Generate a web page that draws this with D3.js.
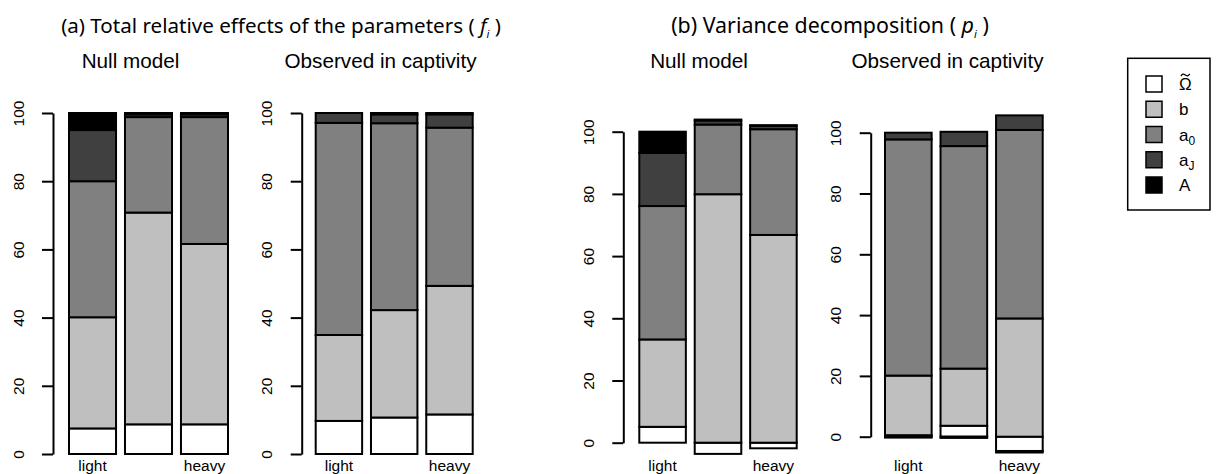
<!DOCTYPE html>
<html>
<head>
<meta charset="utf-8">
<script src="https://cdn.jsdelivr.net/npm/d3@7"></script>
<style>
  body { margin: 0; background: #fff; }
  svg { display: block; }
  .axis-text { font-family: "Liberation Sans", Arial, sans-serif; }
  .title-text { font-family: "Noto Sans", "Open Sans", sans-serif; }
</style>
</head>
<body>
<div id="chart"></div>
<script>
// stacked bars: total relative effects (f_i) and variance decomposition (p_i)

var categories = ["light", "medium", "heavy"];
var xTickLabels = ["light", "", "heavy"];
var yTicks = [0, 20, 40, 60, 80, 100];
var components = ["Omega", "b", "a0", "aJ", "A"];

// values per bar, in component order (Omega, b, a0, aJ, A)
var fNull = [
    [7.5, 32.6, 39.9, 15.0, 5.0],
    [8.7, 62.1, 28.0, 0.8, 0.4],
    [8.7, 52.9, 37.2, 0.8, 0.4]
];
var fObserved = [
    [9.7, 25.2, 62.2, 2.9, 0.0],
    [10.7, 31.5, 54.8, 2.6, 0.4],
    [11.6, 37.7, 46.4, 3.9, 0.4]
];
var pNull = [
    [5.1, 28.1, 42.9, 17.1, 6.8],
    [-3.6, 79.9, 22.4, 1.3, 0.3],
    [-1.8, 66.8, 34.0, 1.1, 0.2]
];
var pObserved = [
    [0.5, 19.6, 77.7, 2.2, -0.3],
    [3.6, 18.8, 73.2, 4.7, -0.4],
    [-4.7, 38.9, 62.0, 4.8, -0.5]
];

var fills = {Omega: "#ffffff", b: "#bfbfbf", a0: "#808080", aJ: "#404040", A: "#000000"};

var width = 1218, height = 474;

var svg = d3.select("#chart")
    .append("svg")
    .attr("width", width)
    .attr("height", height);

var panels = [
    {sub: "Null model", data: fNull, bars: [69, 228], yRange: [454, 113], axisX: 53, subX: 130.5},
    {sub: "Observed in captivity", data: fObserved, bars: [315.7, 472.7], yRange: [454, 113], axisX: 301.7, subX: 380.5},
    {sub: "Null model", data: pNull, bars: [639.3, 796.7], yRange: [442.7, 131.7], axisX: 623.3, subX: 699},
    {sub: "Observed in captivity", data: pObserved, bars: [885, 1042.7], yRange: [436.7, 132.7], axisX: 870.7, subX: 947.5}
];

function stack(row)
{
    var pos = 0, neg = 0;
    return row.map(function(v, i) {
        var seg;
        if (v >= 0) { seg = {lo: pos, hi: pos + v}; pos += v; }
        else { seg = {lo: neg + v, hi: neg}; neg += v; }
        seg.key = components[i];
        return seg;
    });
}

panels.forEach(function(p) {
    var x = d3.scaleBand()
        .domain(categories)
        .range(p.bars)
        .paddingInner(0.16)
        .paddingOuter(0);
    var y = d3.scaleLinear().domain([0, 100]).range(p.yRange);

    var g = svg.append("g");

    // bars
    p.data.forEach(function(row, j) {
        g.append("g")
            .selectAll("rect")
            .data(stack(row).filter(function(s) { return s.hi - s.lo > 0; }))
            .enter()
            .append("rect")
            .attr("x", x(categories[j]))
            .attr("width", x.bandwidth())
            .attr("y", function(s) { return y(s.hi); })
            .attr("height", function(s) { return y(s.lo) - y(s.hi); })
            .attr("fill", function(s) { return fills[s.key]; })
            .attr("stroke", "#000")
            .attr("stroke-width", 2);
    });

    // y axis, R style
    var ax = g.append("g").attr("transform", "translate(" + p.axisX + ",0)");
    ax.call(d3.axisLeft(y).tickValues(yTicks).tickSize(11).tickSizeOuter(0).tickFormat(""));
    ax.select(".domain").attr("stroke-width", 2);
    ax.selectAll(".tick line").attr("stroke-width", 2);
    ax.selectAll(".tick")
        .append("text")
        .attr("class", "axis-text")
        .attr("transform", "translate(-35,0) rotate(-90)")
        .attr("text-anchor", "middle")
        .attr("dominant-baseline", "central")
        .attr("fill", "#000")
        .style("font-size", "15.5px")
        .text(function(d) { return d; });

    // category labels
    g.selectAll("text.cat")
        .data(categories)
        .enter()
        .append("text")
        .attr("class", "cat axis-text")
        .attr("x", function(d) { return x(d) + x.bandwidth() / 2; })
        .attr("y", 471)
        .attr("text-anchor", "middle")
        .style("font-size", "15.5px")
        .text(function(d, i) { return xTickLabels[i]; });

    // subtitle
    g.append("text")
        .attr("class", "axis-text")
        .attr("x", p.subX)
        .attr("y", 68)
        .attr("text-anchor", "middle")
        .style("font-size", "20.7px")
        .text(p.sub);
});

// main titles, font size fitted to the width they take in the figure
function mainTitle(cx, label, sym, targetWidth)
{
    var t = svg.append("text")
        .attr("class", "title-text")
        .attr("x", cx)
        .attr("y", 33)
        .attr("text-anchor", "middle")
        .style("font-size", "21px");
    t.append("tspan").text(label + " ( ");
    t.append("tspan").style("font-style", "italic").text(sym);
    t.append("tspan").attr("dy", 5).style("font-size", "11px").style("font-style", "italic").text("i");
    t.append("tspan").attr("dy", -5).text(" )");
    var w = t.node().getComputedTextLength();
    t.style("font-size", (21 * targetWidth / w).toFixed(2) + "px");
}
mainTitle(281, "(a) Total relative effects of the parameters", "f", 440);
mainTitle(830, "(b) Variance decomposition", "p", 318);

// legend
var legend = svg.append("g");
legend.append("rect")
    .attr("x", 1127.7).attr("y", 58.3)
    .attr("width", 82.3).attr("height", 151.7)
    .attr("fill", "#fff").attr("stroke", "#000").attr("stroke-width", 1.5);

var legendY = d3.scalePoint().domain(components).range([84, 185]);

var rows = legend.selectAll("g.row")
    .data(components)
    .enter()
    .append("g")
    .attr("transform", function(d) { return "translate(0," + legendY(d) + ")"; });

rows.append("rect")
    .attr("x", 1146).attr("y", -8)
    .attr("width", 16).attr("height", 16)
    .attr("fill", function(d) { return fills[d]; })
    .attr("stroke", "#000").attr("stroke-width", 1.5);

rows.each(function(d) {
    var row = d3.select(this);
    var t = row.append("text")
        .attr("class", "axis-text")
        .attr("x", 1179)
        .attr("y", 6)
        .style("font-size", "17px");
    if (d === "Omega") {
        t.text("\u03A9");
        // tilde accent drawn as a small wave over the omega
        var cx = 1179 + t.node().getComputedTextLength() / 2;
        row.append("path")
            .attr("d", d3.line().curve(d3.curveBasis)([
                [cx - 4.5, -8], [cx - 2.5, -10.5], [cx, -9], [cx + 2.5, -7.5], [cx + 4.5, -10]
            ]))
            .attr("fill", "none")
            .attr("stroke", "#000")
            .attr("stroke-width", 1.3);
    } else if (d === "a0") {
        t.append("tspan").text("a");
        t.append("tspan").attr("dy", 4).style("font-size", "12px").text("0");
    } else if (d === "aJ") {
        t.append("tspan").text("a");
        t.append("tspan").attr("dy", 4).style("font-size", "12px").text("J");
    } else t.text(d);
});
</script>
</body>
</html>
